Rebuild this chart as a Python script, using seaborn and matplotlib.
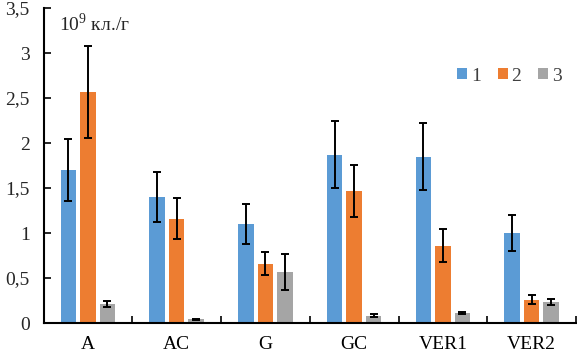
import numpy as np
import pandas as pd
import matplotlib
matplotlib.use("Agg")
import matplotlib.pyplot as plt
import seaborn as sns

categories = ["A", "AC", "G", "GC", "VER1", "VER2"]
series = ["1", "2", "3"]
values_1 = [1.70, 1.40, 1.10, 1.87, 1.85, 1.00]
values_2 = [2.57, 1.16, 0.66, 1.47, 0.86, 0.26]
values_3 = [0.21, 0.04, 0.57, 0.08, 0.11, 0.23]
err_1 = [0.34, 0.28, 0.22, 0.37, 0.37, 0.20]
err_2 = [0.51, 0.23, 0.13, 0.29, 0.18, 0.05]
err_3 = [0.03, 0.01, 0.20, 0.015, 0.01, 0.035]
colors = ["#5B9BD5", "#ED7D31", "#A5A5A5"]
yticks = [0, 0.5, 1, 1.5, 2, 2.5, 3, 3.5]

sns.set_style("ticks")
plt.rcParams["font.family"] = ["Liberation Serif", "DejaVu Serif"]
plt.rcParams["mathtext.fontset"] = "custom"
plt.rcParams["mathtext.rm"] = "Liberation Serif"

df = pd.DataFrame({
    "cat": categories * 3,
    "series": sum([[s] * len(categories) for s in series], []),
    "value": values_1 + values_2 + values_3,
})
errs = [err_1, err_2, err_3]

fig, ax = plt.subplots(figsize=(5.77, 3.55), dpi=100)
fig.subplots_adjust(left=43.5 / 577, right=576 / 577, bottom=1 - 323 / 355, top=1 - 8 / 355)

sns.barplot(data=df, x="cat", y="value", hue="series", palette=colors,
            errorbar=None, width=0.655, gap=0.2, ax=ax, saturation=1,
            linewidth=0)

# error bars at bar centres
for cont, e in zip(ax.containers, errs):
    xs = [p.get_x() + p.get_width() / 2 for p in cont.patches]
    hs = [p.get_height() for p in cont.patches]
    ax.errorbar(xs, hs, yerr=e, fmt="none", ecolor="black",
                elinewidth=1.4, capsize=2.8, capthick=1.4)

ax.set_xlim(-0.5, 5.5)
ax.set_ylim(0, 3.5)
ax.set_yticks(yticks)
ax.set_yticklabels([("%g" % t).replace(".", ",") for t in yticks])
ax.set_xticks(range(len(categories)))
ax.set_xticklabels(categories)
ax.set_xticks(np.arange(-0.5, 6, 1), minor=True)
ax.tick_params(axis="x", which="major", length=0, labelsize=14, pad=9.5, colors="black")
ax.tick_params(axis="x", which="minor", length=5, width=1.4, direction="in")
ax.tick_params(axis="y", length=5, width=1.4, direction="in", labelsize=14, pad=10)
ax.set_xlabel("")
ax.set_ylabel("")
sns.despine(ax=ax)
for s in ["left", "bottom"]:
    ax.spines[s].set_linewidth(1.5)
    ax.spines[s].set_color("black")

ax.text(0.03, 0.985, "10$^{\\mathregular{9}}$ кл./г", transform=ax.transAxes,
        fontsize=14, va="top", ha="left")

handles, labels = ax.get_legend_handles_labels()
ax.legend(handles, labels, ncol=3, frameon=False, loc="center",
          bbox_to_anchor=(0.875, 0.784), handlelength=0.52, handleheight=0.52,
          handletextpad=0.2, columnspacing=0.85, fontsize=14, labelcolor="#404040")

fig.savefig("out.png", dpi=100)
